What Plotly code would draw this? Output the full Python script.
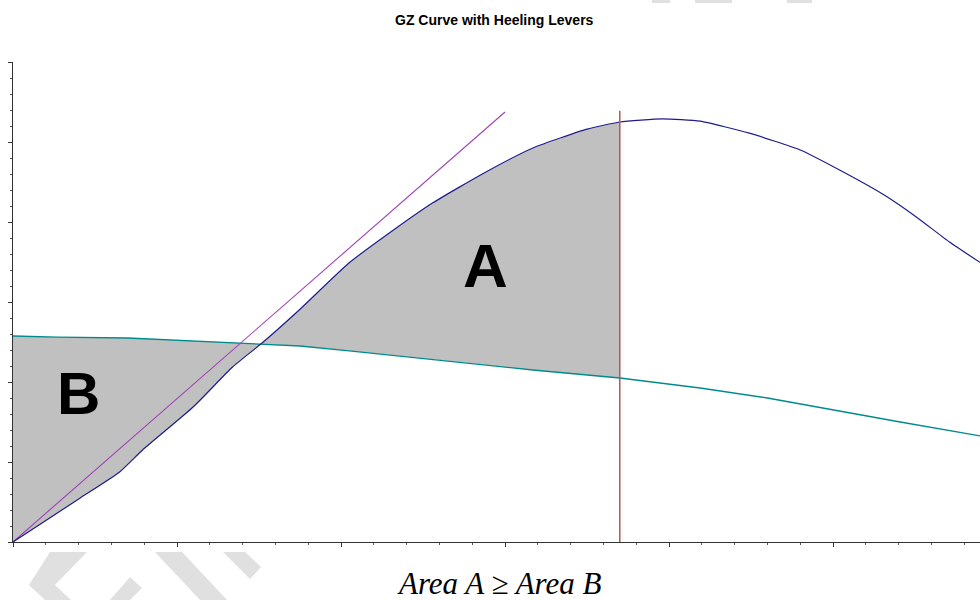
import plotly.graph_objects as go

# GZ (righting lever) curve: heel angle (deg) vs GZ (m)
heel_deg = [0, 4.1, 6.5, 7.9, 11.0, 13.4, 15.2, 17.5, 20.5, 23.2, 25.6, 28.7,
            31.7, 35.0, 37.0, 39.6, 41.9, 44.9, 48.0, 50.4, 53.1, 55.1, 57.1, 59.0]
gz = [0, 0.055, 0.0875, 0.115, 0.169, 0.219, 0.249, 0.291, 0.349, 0.39, 0.424, 0.461,
      0.4925, 0.516, 0.525, 0.529, 0.526, 0.511, 0.49, 0.465, 0.434, 0.406, 0.375, 0.349]

# heeling lever curve
hl_deg = [0, 2.7, 7.0, 9.6, 12.6, 15.1, 17.5, 20.5, 27.7, 31.7, 37.0, 41.9, 46.0, 50.0, 54.1, 59.0]
hl = [0.2575, 0.256, 0.255, 0.2525, 0.25, 0.2475, 0.245, 0.239, 0.224, 0.215, 0.205,
      0.1925, 0.18, 0.165, 0.15, 0.1325]

# initial GM tangent
gm_deg = [0, 30]
gm = [0, 0.5375]

# limit angle (vertical line)
limit_deg = 37.0
limit_top = 0.539

W, H = 980, 600
ML, MR, MT, MB = 13, 0, 62, 58
PW, PH = W - ML - MR, H - MT - MB


# helpers: pixel -> paper coords
def px(x):
    return (x - ML) / PW


def py(y):
    return (H - MB - y) / PH


fig = go.Figure()

# shaded areas A and B between GZ and heeling lever up to the limit angle
fx = [d for d in heel_deg if d <= limit_deg] + [d for d in hl_deg if d <= limit_deg][::-1]
fy = [g for d, g in zip(heel_deg, gz) if d <= limit_deg] + \
     [h for d, h in zip(hl_deg, hl) if d <= limit_deg][::-1]
fig.add_trace(go.Scatter(x=fx, y=fy, fill="toself", fillcolor="#c0c0c0",
                         mode="none", hoverinfo="skip", showlegend=False))

fig.add_trace(go.Scatter(x=hl_deg, y=hl, mode="lines",
                         line=dict(color="#008b8b", width=1.3), showlegend=False))
fig.add_trace(go.Scatter(x=gm_deg, y=gm, mode="lines",
                         line=dict(color="#a040b8", width=1.1), showlegend=False))
fig.add_trace(go.Scatter(x=heel_deg, y=gz, mode="lines",
                         line=dict(color="#1c1c8c", width=1.2, shape="spline", smoothing=0.5),
                         showlegend=False))
fig.add_trace(go.Scatter(x=[limit_deg, limit_deg], y=[0, limit_top], mode="lines",
                         line=dict(color="#b05858", width=1.5), showlegend=False))

fig.add_annotation(x=28.8, y=0.346, text="<b>A</b>", showarrow=False,
                   xanchor="center", yanchor="middle",
                   font=dict(family="Liberation Sans, Arial", size=62, color="black"))
fig.add_annotation(x=4.0, y=0.186, text="<b>B</b>", showarrow=False,
                   xanchor="center", yanchor="middle",
                   font=dict(family="Liberation Sans, Arial", size=60, color="black"))

fig.add_annotation(xref="paper", yref="paper", x=px(499), y=py(583),
                   xanchor="center", yanchor="middle",
                   text="<i>Area A ≥ Area B</i>", showarrow=False,
                   font=dict(family="Liberation Serif, Times New Roman", size=31, color="black"))

fig.add_annotation(xref="paper", yref="paper", x=px(494), y=py(20),
                   xanchor="center", yanchor="middle",
                   text="<b>GZ Curve with Heeling Levers</b>", showarrow=False,
                   font=dict(family="Liberation Sans, Arial", size=14, color="black"))

# faint watermark pieces
wm = [
    [(50, 552), (87, 552), (55, 585), (71, 600), (45, 600), (29, 585)],
    [(130, 577), (142, 588), (130, 600), (110, 600)],
    [(155, 552), (182, 552), (227, 600), (200, 600)],
    [(223, 552), (245, 552), (261, 567), (250, 579)],
    [(652, 0), (670, 0), (670, 3), (652, 3)],
    [(695, 0), (732, 0), (732, 3), (695, 3)],
    [(787, 0), (812, 0), (812, 3), (787, 3)],
]
for poly in wm:
    path = "M " + " L ".join(f"{px(a):.4f},{py(b):.4f}" for a, b in poly) + " Z"
    fig.add_shape(type="path", path=path, xref="paper", yref="paper",
                  fillcolor="#e0e0e0", line=dict(width=0), layer="below")

axis_common = dict(showgrid=False, zeroline=False, showticklabels=False,
                   showline=True, linecolor="#333333", linewidth=1,
                   ticks="outside", ticklen=4, tickcolor="#333333",
                   minor=dict(ticks="outside", ticklen=2, tickcolor="#555555", showgrid=False))

fig.update_xaxes(range=[0, PW / 16.4], dtick=10, tick0=0, minor_dtick=2, **axis_common)
fig.update_yaxes(range=[0, 0.6], dtick=0.1, tick0=0, minor_dtick=0.02, **axis_common)

fig.update_layout(width=W, height=H, margin=dict(l=ML, r=MR, t=MT, b=MB),
                  plot_bgcolor="white", paper_bgcolor="white")

# drop the default 8px page margin so the figure fills the window exactly
fig.write_html("out.html", config={"displayModeBar": False},
               post_script="document.body.style.margin='0';document.body.style.overflow='hidden';")
